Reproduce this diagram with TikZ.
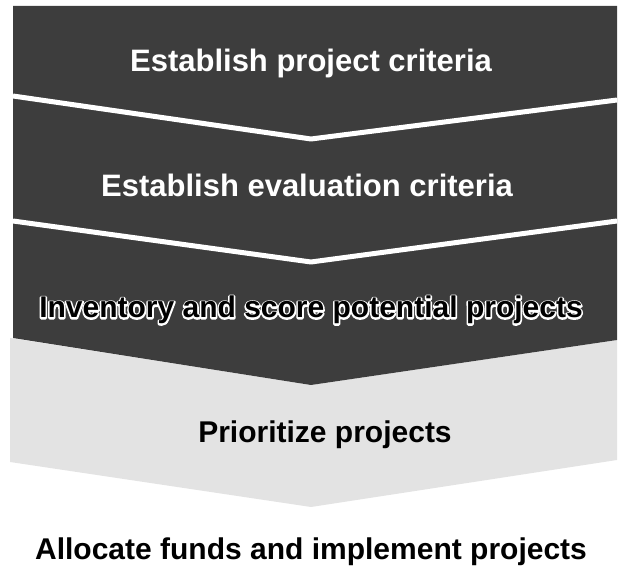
\documentclass[tikz,border=0pt]{standalone}
\usepackage{fontspec}
\setmainfont{Liberation Sans}
% white stroked glyphs, used as a halo behind black text
\newcommand{\haloed}[1]{\special{pdf:literal 1 1 1 RG 3.2 w 1 j 1 Tr}#1\special{pdf:literal 0 Tr}}
\tikzset{
  darkband/.style={fill=black!76},
  lightband/.style={fill=black!11},
  divider/.style={draw=white, line width=5pt, line join=round},
  steplabel/.style={font=\bfseries\fontsize{30}{32}\selectfont, inner sep=0pt, anchor=base},
  toplabel/.style={steplabel, font=\bfseries\fontsize{31}{33}\selectfont, text=white},
}
\begin{document}
\begin{tikzpicture}[x=1pt, y=-1pt]
	\useasboundingbox (0,0) rectangle (622,569);
	% Chevron bands:
	\fill[lightband] (10,338) -- (311,385) -- (617,340) -- (617,460) -- (311,507) -- (10,462) -- cycle;
	\fill[darkband] (13,6) -- (617,6) -- (617,340) -- (311,385) -- (13,338) -- cycle;
	\draw[divider] (13,96) -- (311,139) -- (617,100);
	\draw[divider] (13,221) -- (311,262) -- (617,221);
	% Labels:
	\node[toplabel] (crit) at (311,72) {Establish project criteria};
	\node[toplabel] (eval) at (307,197) {Establish evaluation criteria};
	\node[steplabel, text=white] (invhalo) at (311,318) {\haloed{Inventory and score potential projects}};
	\node[steplabel] (inv) at (311,318) {Inventory and score potential projects};
	\node[steplabel] (prio) at (325,443) {Prioritize projects};
	\node[steplabel] (fund) at (311,560) {Allocate funds and implement projects};
\end{tikzpicture}
\end{document}
